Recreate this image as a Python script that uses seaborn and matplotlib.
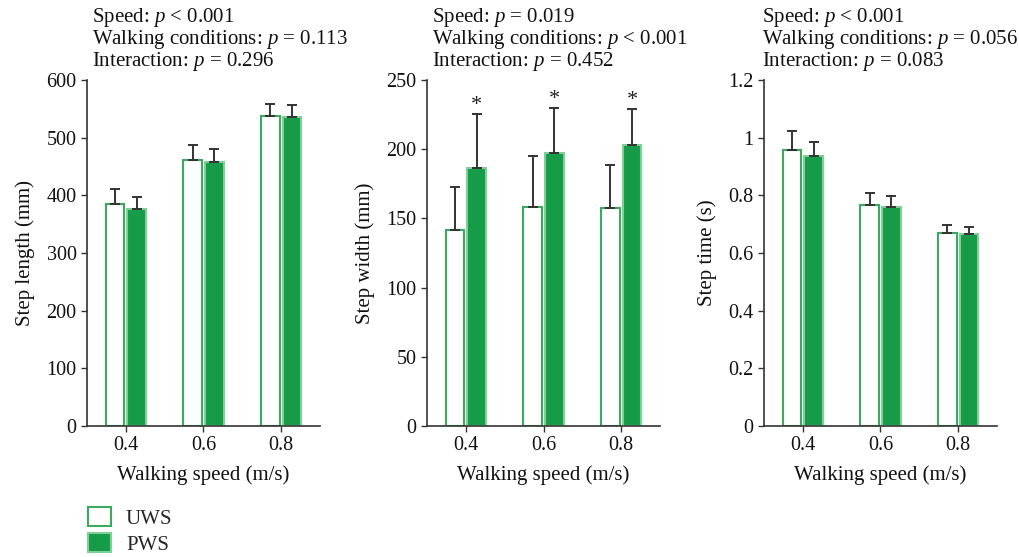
import numpy as np
import pandas as pd
import matplotlib
matplotlib.use("Agg")
import matplotlib.pyplot as plt
import seaborn as sns
from matplotlib.patches import Patch

speeds = ["0.4", "0.6", "0.8"]
conditions = ["UWS", "PWS"]

len_uws = [385, 461, 538]
len_pws = [376, 458, 536]
len_uws_sd = [26, 26, 21]
len_pws_sd = [21, 23, 21]

wid_uws = [141.6, 158, 157.5]
wid_pws = [186.4, 197, 203]
wid_uws_sd = [31, 37, 31]
wid_pws_sd = [39, 33, 26]

tim_uws = [0.956, 0.765, 0.671]
tim_pws = [0.935, 0.761, 0.666]
tim_uws_sd = [0.066, 0.044, 0.026]
tim_pws_sd = [0.049, 0.036, 0.025]

stats_len = ["Speed: $p$ < 0.001", "Walking conditions: $p$ = 0.113", "Interaction: $p$ = 0.296"]
stats_wid = ["Speed: $p$ = 0.019", "Walking conditions: $p$ < 0.001", "Interaction: $p$ = 0.452"]
stats_tim = ["Speed: $p$ < 0.001", "Walking conditions: $p$ = 0.056", "Interaction: $p$ = 0.083"]

ylabels = ["Step length (mm)", "Step width (mm)", "Step time (s)"]
yticks_len = [0, 100, 200, 300, 400, 500, 600]
yticks_wid = [0, 50, 100, 150, 200, 250]
yticks_tim = [0, 0.2, 0.4, 0.6, 0.8, 1.0, 1.2]
ytick_labels_tim = ["0", "0.2", "0.4", "0.6", "0.8", "1", "1.2"]
stars_wid = [True, True, True]

GREEN = "#169b48"
GREEN_EDGE_LIGHT = "#7fd097"
GREEN_EDGE = "#3aab5e"
ERR = "#333333"

sns.set_style("white")
plt.rcParams["font.family"] = ["Liberation Serif", "DejaVu Serif"]
plt.rcParams["mathtext.fontset"] = "custom"
plt.rcParams["mathtext.rm"] = "Liberation Serif"
plt.rcParams["mathtext.it"] = "Liberation Serif:italic"
plt.rcParams["font.size"] = 15

fig = plt.figure(figsize=(10.2, 5.57), dpi=100)
lefts = [87, 427, 764]
axes = [fig.add_axes([l / 1020, (557 - 426) / 557, 233 / 1020, 346 / 557]) for l in lefts]

panels = [
    (len_uws, len_pws, len_uws_sd, len_pws_sd, stats_len, yticks_len, None, (0, 600), None),
    (wid_uws, wid_pws, wid_uws_sd, wid_pws_sd, stats_wid, yticks_wid, None, (0, 250), stars_wid),
    (tim_uws, tim_pws, tim_uws_sd, tim_pws_sd, stats_tim, yticks_tim, ytick_labels_tim, (0, 1.2), None),
]

for ax, (u, p, usd, psd, stats, yt, ytl, ylim, stars), ylab in zip(axes, panels, ylabels):
    df = pd.DataFrame({
        "speed": speeds * 2,
        "cond": ["UWS"] * 3 + ["PWS"] * 3,
        "val": list(u) + list(p),
        "sd": list(usd) + list(psd),
    })
    sns.barplot(data=df, x="speed", y="val", hue="cond", hue_order=conditions,
                order=speeds, palette={"UWS": "white", "PWS": GREEN},
                width=0.56, gap=0.14, errorbar=None, legend=False, ax=ax)
    patches = [pt for pt in ax.patches]
    for i, pt in enumerate(patches):
        if i < 3:
            pt.set_facecolor("white")
            pt.set_edgecolor(GREEN_EDGE)
        else:
            pt.set_facecolor(GREEN)
            pt.set_edgecolor(GREEN_EDGE_LIGHT)
        pt.set_linewidth(1.5)
    sds = list(usd) + list(psd)
    vals = list(u) + list(p)
    for i, pt in enumerate(patches):
        xc = pt.get_x() + pt.get_width() / 2
        ax.errorbar([xc], [vals[i]], yerr=[[0], [sds[i]]], fmt="none",
                    ecolor=ERR, elinewidth=1.4, capsize=3.5, capthick=1.4, zorder=1)
        if stars is not None and i >= 3 and stars[i - 3]:
            ax.annotate("*", (xc, vals[i] + sds[i]), xytext=(0, -1),
                        textcoords="offset points", ha="center", va="bottom",
                        fontsize=16, color="#222222")
    ax.set_ylim(*ylim)
    ax.set_xlim(-0.5, 2.5)
    ax.set_yticks(yt)
    if ytl is not None:
        ax.set_yticklabels(ytl)
    ax.set_ylabel(ylab, fontsize=15, color="#111111", labelpad=8)
    ax.set_xlabel("Walking speed (m/s)", fontsize=15, color="#111111", labelpad=7)
    sns.despine(ax=ax)
    for s in ["left", "bottom"]:
        ax.spines[s].set_color("#333333")
        ax.spines[s].set_linewidth(1.2)
    ax.tick_params(axis="both", direction="out", length=4, width=1, color="#333333",
                   labelsize=14.5, labelcolor="#111111", left=True, bottom=True)
    for k, line in enumerate(stats):
        ax.text(0.02 if ax is not axes[2] else -0.01, 1.0 + 0.18 - k * 0.0636, line,
                transform=ax.transAxes, ha="left", va="center", fontsize=15, color="#111111")

handles = [Patch(facecolor="white", edgecolor=GREEN_EDGE, linewidth=1.5, label="UWS"),
           Patch(facecolor=GREEN, edgecolor=GREEN_EDGE_LIGHT, linewidth=1.5, label="PWS")]
fig.legend(handles=handles, loc="upper left", bbox_to_anchor=(76 / 1020, 1 - 495 / 557),
           frameon=False, fontsize=15, handlelength=1.1, handleheight=1.0,
           labelspacing=0.2, handletextpad=0.7, borderaxespad=0.2)

fig.savefig("out.png", dpi=100)
